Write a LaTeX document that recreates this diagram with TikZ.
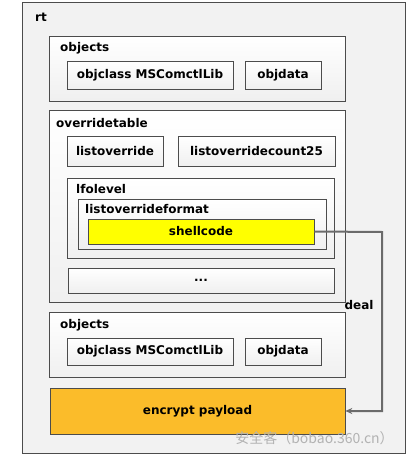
\documentclass[tikz,border=0pt]{standalone}
\usepackage{fontspec}
\setmainfont{DejaVu Sans}
\newfontfamily\cjkfont{Noto Sans CJK SC}
\usetikzlibrary{arrows.meta, positioning}
\definecolor{gold}{HTML}{FBBC2A}

\begin{document}
\begin{tikzpicture}[
  x=1pt, y=-1pt,
  >=Stealth,
  % Generic container / field box
  box/.style={rectangle, draw=black!70, line width=0.6pt, top color=white, bottom color=gray!12, inner sep=0pt},
  field/.style={box, font=\fontsize{12}{14}\selectfont\bfseries},
  % Container title
  ttl/.style={anchor=west, inner sep=0pt, font=\fontsize{12}{14}\selectfont\bfseries},
  % Highlighted boxes
  shell/.style={field, fill=yellow, top color=yellow, bottom color=yellow},
  payload/.style={field, fill=gold, top color=gold, bottom color=gold},
  % Flow arrow
  flow/.style={->, line width=2pt, line join=miter, draw=black!58, >={Stealth[length=7pt,width=6pt]}}
]

%% Background frame
\useasboundingbox (0,0) rectangle (407,455);
\node[rectangle, draw=black!70, line width=0.6pt, fill=gray!10, minimum width=383pt, minimum height=451pt] (rt) at (213.5,227.5) {};
\node[ttl] (rtlbl) at (35,17) {rt};

%% First objects block
\node[box, minimum width=296pt, minimum height=65pt] (objA) at (197,68.5) {};
\node[ttl] (objAlbl) at (60,48) {objects};
\node[field, minimum width=166pt, minimum height=28pt] (clsA) at (150,75) {objclass MSComctlLib};
\node[field, minimum width=76pt, minimum height=28pt] (datA) at (283,75) {objdata};

%% Override table
\node[box, minimum width=296pt, minimum height=192pt] (ovr) at (197,206) {};
\node[ttl] (ovrlbl) at (56,123) {overridetable};
\node[field, minimum width=96pt, minimum height=30pt] (lst) at (115,151) {listoverride};
\node[field, minimum width=157pt, minimum height=30pt] (cnt) at (256.5,151) {listoverridecount25};

\node[box, minimum width=267pt, minimum height=80pt] (lfo) at (200.5,218) {};
\node[ttl] (lfolbl) at (76,189) {lfolevel};
\node[box, minimum width=248pt, minimum height=50pt] (fmt) at (202,224) {};
\node[ttl] (fmtlbl) at (85,209) {listoverrideformat};
\node[shell, minimum width=226pt, minimum height=25pt] (shell) at (201,231.5) {shellcode};

\node[field, minimum width=266pt, minimum height=25pt] (dots) at (201,280.5) {...};

%% Second objects block
\node[box, minimum width=296pt, minimum height=65pt] (objB) at (197,344.5) {};
\node[ttl] (objBlbl) at (60,325) {objects};
\node[field, minimum width=166pt, minimum height=27pt] (clsB) at (150,351.5) {objclass MSComctlLib};
\node[field, minimum width=76pt, minimum height=27pt] (datB) at (283,351.5) {objdata};

%% Encrypted payload
\node[payload, minimum width=295pt, minimum height=46pt] (pay) at (197.5,411) {encrypt payload};

%% Flow from shellcode to payload
\coordinate (turn) at (382,232);
\draw[flow] (shell.east) -- (turn) |- (pay.east);
\node[font=\fontsize{12}{14}\selectfont\bfseries, inner sep=0pt] (deal) at (359,305) {deal};

%% Watermark
\node[font=\cjkfont\fontsize{14}{16}\selectfont, text=gray!60, inner sep=0pt] (wm) at (314.5,438.5) {安全客（bobao.360.cn）};

\end{tikzpicture}
\end{document}
